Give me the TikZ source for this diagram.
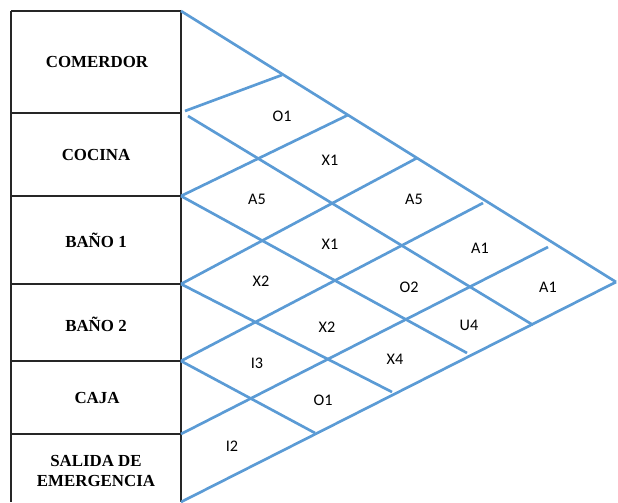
\documentclass[tikz,border=0pt]{standalone}
\usepackage{fontspec}
\setmainfont{Liberation Serif}
\newfontfamily\cellfont{Carlito}
\usetikzlibrary{positioning}

\definecolor{gridblue}{RGB}{91,155,213}

\begin{document}
\begin{tikzpicture}[
    x=0.025cm, y=-0.025cm,
    tbl/.style={draw=black!85, line width=0.9pt},
    gridline/.style={draw=gridblue, line width=1.9pt},
    area/.style={font=\fontsize{12}{14}\selectfont\bfseries, align=center},
    cell/.style={font=\cellfont\fontsize{11.5}{13}\selectfont}
]
    \useasboundingbox (0,0) rectangle (618,502);

    % Table of areas on the left
    \draw[tbl] (11,11) -- (11,502);
    \draw[tbl] (181,11) -- (181,502);
    \foreach \y in {11,113,196,284,361,434} {
        \draw[tbl] (11,\y) -- (181,\y);
    }

    \node[area] (comedor) at (97,62) {COMERDOR};
    \node[area] (cocina) at (96,155) {COCINA};
    \node[area] (bano1) at (96,240) {BAÑO 1};
    \node[area] (bano2) at (96,324) {BAÑO 2};
    \node[area] (caja) at (97,398) {CAJA};
    \node[area] (salida) at (96,471) {SALIDA DE\\EMERGENCIA};

    % Corners of the relationship grid
    \coordinate (L0) at (181,11);
    \coordinate (L1a) at (185,111);
    \coordinate (L1b) at (188,116);
    \coordinate (L2) at (181,196);
    \coordinate (L3) at (181,284);
    \coordinate (L4) at (181,361);
    \coordinate (L5) at (181,434);
    \coordinate (L6) at (181,502);

    \coordinate (T1) at (282,75);
    \coordinate (T2) at (348,115);
    \coordinate (T3) at (417,158);
    \coordinate (T4) at (483,203);
    \coordinate (T5) at (548,247);
    \coordinate (T6) at (616,282);

    \coordinate (B1) at (533,325);
    \coordinate (B2) at (467,353);
    \coordinate (B3) at (392,392);
    \coordinate (B4) at (315,433);

    % Rising lines
    \foreach \a/\b in {L1a/T1, L2/T2, L3/T3, L4/T4, L5/T5, L6/T6} {
        \draw[gridline] (\a) -- (\b);
    }
    % Falling lines
    \foreach \a/\b in {L0/T6, L1b/B1, L2/B2, L3/B3, L4/B4} {
        \draw[gridline] (\a) -- (\b);
    }

    % Closeness codes
    \foreach \n/\x/\y/\t in {12/282/116/O1, 23/257/199/A5, 34/261/281/X2, 45/257/363/I3, 56/232/446/I2,
                             13/330/160/X1, 24/330/244/X1, 35/327/327/X2, 46/323/400/O1,
                             14/414/199/A5, 25/409/287/O2, 36/395/359/X4,
                             15/480/248/A1, 26/469/325/U4,
                             16/548/287/A1} {
        \node[cell] (r\n) at (\x,\y) {\t};
    }

\end{tikzpicture}
\end{document}
